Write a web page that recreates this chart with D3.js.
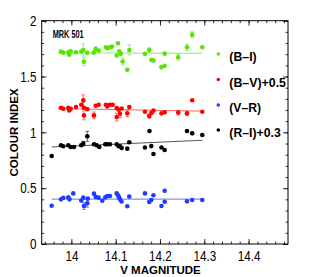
<!DOCTYPE html>
<html>
<head>
<meta charset="utf-8">
<script src="https://cdn.jsdelivr.net/npm/d3@7"></script>
<style>
  body { margin: 0; background: #fff; }
  svg { display: block; font-family: "Liberation Sans", Arial, sans-serif; }
</style>
</head>
<body>
<svg></svg>
<script>
// V magnitude vs colour index for MRK 501
var xTicks = [14, 14.1, 14.2, 14.3, 14.4];
var yTicks = [0, 0.5, 1, 1.5, 2];
var seriesNames = ["(B\u2013I)", "(B\u2013V)+0.5", "(V\u2013R)", "(R\u2013I)+0.3"];

var biV   = [13.9765,13.9817,13.993,13.9953,13.9984,14.0104,14.0223,14.0269,14.0284,14.0359,14.0503,14.0549,14.0616,14.0781,14.081,14.0871,14.0916,14.1052,14.1023,14.1081,14.1113,14.1158,14.1262,14.1307,14.1661,14.1758,14.1808,14.1853,14.2034,14.2106,14.2106,14.2411,14.261,14.2727,14.2955];
var biVal = [1.723,1.714,1.717,1.696,1.726,1.717,1.723,1.738,1.632,1.712,1.714,1.747,1.732,1.762,1.753,1.762,1.768,1.797,1.688,1.726,1.703,1.634,1.56,1.738,1.703,1.737,1.649,1.643,1.583,1.596,1.705,1.672,1.762,1.875,1.762];
var biErr = [0,0,0,0,0,0,0,0.055,0.035,0,0,0.02,0,0,0,0,0,0,0,0,0,0.03,0,0.045,0,0.02,0,0,0,0,0,0.025,0.03,0.025,0];

var bvV   = [13.9765,13.9817,13.993,13.9953,13.9984,14.0104,14.0223,14.0269,14.0284,14.0284,14.0359,14.051,14.0549,14.0616,14.0781,14.081,14.0871,14.0932,14.1023,14.1023,14.1068,14.1097,14.1135,14.1262,14.1307,14.1661,14.1758,14.1808,14.1853,14.2034,14.2106,14.2411,14.261,14.2727,14.2955];
var bvVal = [1.221,1.212,1.221,1.196,1.212,1.226,1.247,1.286,1.221,1.152,1.208,1.152,1.238,1.247,1.247,1.232,1.247,1.247,1.217,1.137,1.203,1.167,1.214,1.17,1.226,1.185,1.146,1.174,1.196,1.17,1.179,1.177,1.17,1.288,1.185];
var bvErr = [0,0,0,0,0,0,0,0.05,0,0.04,0,0.03,0,0,0,0,0,0,0,0.035,0,0.035,0,0.03,0,0,0.02,0,0,0,0,0.02,0.02,0,0];

var vrV   = [13.9555,13.9765,13.9817,13.993,13.9957,14.0043,14.0223,14.0269,14.0284,14.0359,14.037,14.051,14.0549,14.0616,14.0698,14.0765,14.081,14.0871,14.1023,14.1059,14.1074,14.1097,14.1131,14.1262,14.1307,14.1661,14.1758,14.1804,14.1853,14.2034,14.2106,14.2106,14.261,14.2727,14.2955];
var vrVal = [0.342,0.4,0.414,0.418,0.4,0.453,0.389,0.415,0.34,0.364,0.406,0.451,0.422,0.415,0.387,0.418,0.429,0.43,0.453,0.433,0.418,0.4,0.38,0.338,0.425,0.453,0.376,0.394,0.436,0.34,0.477,0.379,0.382,0.394,0.394];
var vrErr = [0,0,0,0,0,0,0,0,0.03,0.035,0,0,0,0,0,0,0,0,0,0,0,0,0,0,0,0,0,0,0,0,0,0,0,0,0];

var riV   = [13.9555,13.9765,13.9817,13.993,13.9984,14.0059,14.0223,14.0269,14.0359,14.051,14.0571,14.063,14.0765,14.081,14.0871,14.1023,14.1068,14.1097,14.1135,14.1262,14.1307,14.1661,14.1763,14.1804,14.1853,14.2034,14.2106,14.261,14.2727,14.2955];
var riVal = [0.788,0.884,0.875,0.884,0.869,0.869,0.884,0.899,0.964,0.893,0.884,0.869,0.893,0.893,0.893,0.893,0.875,0.875,0.86,0.854,0.911,0.864,1.012,0.877,0.806,0.864,0.842,1.012,0.991,0.976];
var riErr = [0,0,0,0,0,0,0,0.02,0.045,0,0,0,0,0,0,0,0,0,0,0,0,0,0,0,0,0,0,0,0,0];

// straight-line fits: start/end V and fitted value
var biFit = [[13.97, 1.712], [14.2955, 1.708]];
var bvFit = [[13.97, 1.213], [14.2955, 1.19]];
var vrFit = [[13.9555, 0.402], [14.2955, 0.402]];
var riFit = [[13.9555, 0.869], [14.2955, 0.929]];

var dotColors = ["#55e600", "#ff0000", "#1f3cff", "#000000"];
var lineColors = ["#8fe870", "#ff6060", "#5a78ff", "#555555"];

var series = [
  {v: biV, val: biVal, err: biErr, fit: biFit},
  {v: bvV, val: bvVal, err: bvErr, fit: bvFit},
  {v: vrV, val: vrVal, err: vrErr, fit: vrFit},
  {v: riV, val: riVal, err: riErr, fit: riFit}
];

var W = 319, H = 277;
var margin = {left: 41.7, top: 20.7, right: 31, bottom: 33};
var width = W - margin.left - margin.right;
var height = H - margin.top - margin.bottom;

var x = d3.scaleLinear().domain([13.933, 14.489]).range([0, width]);
var y = d3.scaleLinear().domain([0, 2]).range([height, 0]);

var svg = d3.select("svg").attr("width", W).attr("height", H);
var g = svg.append("g").attr("transform", "translate(" + margin.left + "," + margin.top + ")");

// ticks on every side, pointing in
var xMinor = d3.range(13.94, 14.49, 0.02).map(function(d){ return +d.toFixed(2); });
var yMinor = d3.range(0, 2.001, 0.1).map(function(d){ return +d.toFixed(1); });

function tickGroup(axis, tx, ty){
  var a = g.append("g").attr("transform", "translate(" + tx + "," + ty + ")").call(axis);
  a.select(".domain").remove();
  a.selectAll("line").attr("stroke", "#000").attr("stroke-width", 0.8);
  return a;
}
tickGroup(d3.axisBottom(x).tickValues(xMinor).tickSize(-2.5).tickFormat(""), 0, height);
tickGroup(d3.axisTop(x).tickValues(xMinor).tickSize(-2.5).tickFormat(""), 0, 0);
tickGroup(d3.axisLeft(y).tickValues(yMinor).tickSize(-2.5).tickFormat(""), 0, 0);
tickGroup(d3.axisRight(y).tickValues(yMinor).tickSize(-2.5).tickFormat(""), width, 0);
tickGroup(d3.axisTop(x).tickValues(xTicks).tickSize(-5).tickFormat(""), 0, 0);
tickGroup(d3.axisRight(y).tickValues(yTicks).tickSize(-5).tickFormat(""), width, 0);

var plain = function(d){ return String(d); };

var xAx = tickGroup(d3.axisBottom(x).tickValues(xTicks).tickSize(-5).tickPadding(6)
  .tickFormat(plain), 0, height);
xAx.selectAll("text").attr("font-size", 15).attr("fill", "#000")
  .attr("font-family", "'Liberation Sans', Arial, sans-serif")
  .attr("transform", "scale(0.78,1)");

var yAx = tickGroup(d3.axisLeft(y).tickValues(yTicks).tickSize(-5).tickPadding(6.7)
  .tickFormat(plain), 0, 0);
yAx.selectAll("text").attr("font-size", 15).attr("fill", "#000")
  .attr("font-family", "'Liberation Sans', Arial, sans-serif")
  .attr("transform", "scale(0.78,1)");

g.append("rect").attr("width", width).attr("height", height)
  .attr("fill", "none").attr("stroke", "#000").attr("stroke-width", 1);

// fit lines, error bars, points
var line = d3.line().x(function(d){ return x(d[0]); }).y(function(d){ return y(d[1]); });

series.forEach(function(s, i){
  g.append("path").attr("d", line(s.fit)).attr("fill", "none")
    .attr("stroke", lineColors[i]).attr("stroke-width", 1);

  var pts = s.v.map(function(v, j){ return {v: v, val: s.val[j], err: s.err[j]}; });
  var eb = g.append("g").attr("stroke", lineColors[i]).attr("stroke-width", 0.9);
  pts.filter(function(d){ return d.err > 0; }).forEach(function(d){
    var cx = x(d.v), y0 = y(d.val - d.err), y1 = y(d.val + d.err);
    eb.append("line").attr("x1", cx).attr("x2", cx).attr("y1", y0).attr("y2", y1);
    eb.append("line").attr("x1", cx - 1.8).attr("x2", cx + 1.8).attr("y1", y0).attr("y2", y0);
    eb.append("line").attr("x1", cx - 1.8).attr("x2", cx + 1.8).attr("y1", y1).attr("y2", y1);
  });

  g.append("g").selectAll("circle").data(pts).join("circle")
    .attr("cx", function(d){ return x(d.v); })
    .attr("cy", function(d){ return y(d.val); })
    .attr("r", 2.3)
    .attr("fill", dotColors[i]);
});

// legend
var legendY = [54, 79.5, 105, 130];
var legendW = [27.4, 56.7, 31.7, 51.4];
seriesNames.forEach(function(name, i){
  svg.append("circle").attr("cx", 218.3).attr("cy", legendY[i]).attr("r", 1.8).attr("fill", dotColors[i]);
  svg.append("text").attr("x", 229.3).attr("y", legendY[i] + 7)
    .attr("font-size", 13).attr("font-weight", "bold")
    .attr("textLength", legendW[i]).attr("lengthAdjust", "spacingAndGlyphs")
    .text(name);
});

svg.append("text").attr("x", 52.7).attr("y", 38.3)
  .attr("font-size", 11).attr("font-weight", "bold")
  .attr("textLength", 31).attr("lengthAdjust", "spacingAndGlyphs")
  .text("MRK 501");

svg.append("text").attr("x", 160.5).attr("y", 273.5).attr("text-anchor", "middle")
  .attr("font-size", 11.5).attr("font-weight", "bold")
  .text("V MAGNITUDE");

svg.append("text").attr("transform", "translate(18.3,132.5) rotate(-90)")
  .attr("text-anchor", "middle").attr("font-size", 11.5).attr("font-weight", "bold")
  .text("COLOUR INDEX");
</script>
</body>
</html>
